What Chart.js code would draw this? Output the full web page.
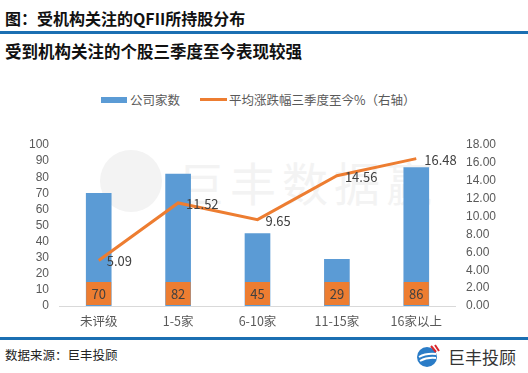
<!DOCTYPE html>
<html>
<head>
<meta charset="utf-8">
<script src="https://cdn.jsdelivr.net/npm/chart.js@4.4.0/dist/chart.umd.min.js"></script>
<style>
  body { margin: 0; background: #fff; width: 528px; height: 373px; overflow: hidden; position: relative;
         font-family: "Noto Sans CJK SC", "DejaVu Sans", sans-serif; }
  .title { position: absolute; left: 5px; top: 6px; font-size: 16px; font-weight: bold; color: #111; }
  .sub { position: absolute; left: 5px; top: 39px; font-size: 16.5px; font-weight: bold; color: #111; }
  .rule { position: absolute; left: 0; width: 528px; height: 3px; background: #1b6fb2; }
  .legend { position: absolute; top: 90px; left: 101px; font-size: 12.5px; color: #595959; }
  .legend span { position: absolute; white-space: nowrap; }
  .wm { position: absolute; color: #f3f3f3; font-size: 46px; letter-spacing: 6px; }
  .wmc { position: absolute; width: 62px; height: 62px; border-radius: 50%; background: #f3f3f3; }
  .src { position: absolute; left: 5px; top: 345px; font-size: 12.5px; color: #222; }
  .logo { position: absolute; left: 448px; top: 344px; font-size: 17px; color: #333; }
  #wrap { position: absolute; left: 0; top: 118px; width: 528px; height: 219px; }
</style>
</head>
<body>
<div class="title">图：受机构关注的QFII所持股分布</div>
<div class="rule" style="top:31px"></div>
<div class="sub">受到机构关注的个股三季度至今表现较强</div>
<div class="legend">
  <span style="left:0;top:7px;width:26px;height:6px;background:#5b9bd5"></span>
  <span style="left:29px;top:0">公司家数</span>
  <span style="left:99px;top:8px;width:27px;height:3px;background:#ed7d31"></span>
  <span style="left:128px;top:0">平均涨跌幅三季度至今%（右轴）</span>
</div>
<div class="wmc" style="left:100px;top:150px"></div>
<div class="wm" style="left:178px;top:148px">巨丰数据赢</div>
<div id="wrap"><canvas id="c"></canvas></div>
<div class="rule" style="top:337px"></div>
<div class="src">数据来源：巨丰投顾</div>
<svg style="position:absolute;left:414px;top:343px" width="30" height="26" viewBox="0 0 30 26">
  <circle cx="13" cy="14" r="10" fill="#2a7cc7"/>
  <path d="M5 14 Q12 10 22 11" stroke="#fff" stroke-width="2" fill="none"/>
  <path d="M6 18 Q13 14 22 15" stroke="#fff" stroke-width="2" fill="none"/>
  <path d="M17 3 L22 9 M21 2 L25 8" stroke="#d9262c" stroke-width="2"/>
</svg>
<div class="logo">巨丰投顾</div>
<script>
const categories = ["未评级", "1-5家", "6-10家", "11-15家", "16家以上"];
const companyCounts = [70, 82, 45, 29, 86];
const avgChange = [5.09, 11.52, 9.65, 14.56, 16.48];
const leftTicks = [0, 10, 20, 30, 40, 50, 60, 70, 80, 90, 100];
const rightTicks = [0, 2, 4, 6, 8, 10, 12, 14, 16, 18];

const labelPlugin = {
  id: "labels",
  afterDatasetsDraw(chart) {
    const ctx = chart.ctx;
    ctx.save();
    ctx.font = "13px 'Noto Sans CJK SC', 'DejaVu Sans', sans-serif";
    ctx.textBaseline = "middle";
    // bar values in orange boxes at the foot of each bar
    chart.getDatasetMeta(0).data.forEach((bar, i) => {
      const w = bar.width;
      const bottom = bar.base;
      ctx.fillStyle = "#ed7d31";
      ctx.fillRect(bar.x - w / 2, bottom - 24, w, 23);
      ctx.fillStyle = "#404040";
      ctx.textAlign = "center";
      ctx.fillText(companyCounts[i], bar.x, bottom - 12);
    });
    // line values to the right of each point
    chart.getDatasetMeta(1).data.forEach((pt, i) => {
      ctx.fillStyle = "#404040";
      ctx.textAlign = "left";
      ctx.fillText(avgChange[i].toFixed(2), pt.x + 8, pt.y + 1);
    });
    ctx.restore();
  }
};

new Chart("c", {
  data: {
    labels: categories,
    datasets: [{
      type: "bar",
      label: "公司家数",
      data: companyCounts,
      backgroundColor: "#5b9bd5",
      barThickness: 25,
      yAxisID: "y",
      order: 2
    }, {
      type: "line",
      label: "平均涨跌幅三季度至今%（右轴）",
      data: avgChange,
      borderColor: "#ed7d31",
      borderWidth: 3,
      pointRadius: 0,
      tension: 0,
      yAxisID: "y1",
      order: 1
    }]
  },
  options: {
    responsive: true,
    maintainAspectRatio: false,
    animation: false,
    layout: { padding: { top: 27, left: 27, right: 30, bottom: 0 } },
    plugins: { legend: { display: false }, tooltip: { enabled: false } },
    scales: {
      x: {
        grid: { display: false, drawTicks: false },
        border: { color: "#d9d9d9" },
        ticks: { color: "#595959", font: { size: 12.5, family: "'Noto Sans CJK SC', sans-serif" }, padding: 8 }
      },
      y: {
        min: 0, max: 100,
        afterBuildTicks: s => { s.ticks = leftTicks.map(v => ({ value: v })); },
        grid: { display: false },
        border: { display: false },
        ticks: { autoSkip: false, color: "#595959", font: { size: 12 }, padding: 2 }
      },
      y1: {
        position: "right",
        min: 0, max: 18,
        afterBuildTicks: s => { s.ticks = rightTicks.map(v => ({ value: v })); },
        ticks: { autoSkip: false, color: "#595959", font: { size: 12 }, padding: 2, callback: v => v.toFixed(2) },
        grid: { display: false },
        border: { display: false }
      }
    }
  },
  plugins: [labelPlugin]
});
</script>
</body>
</html>
